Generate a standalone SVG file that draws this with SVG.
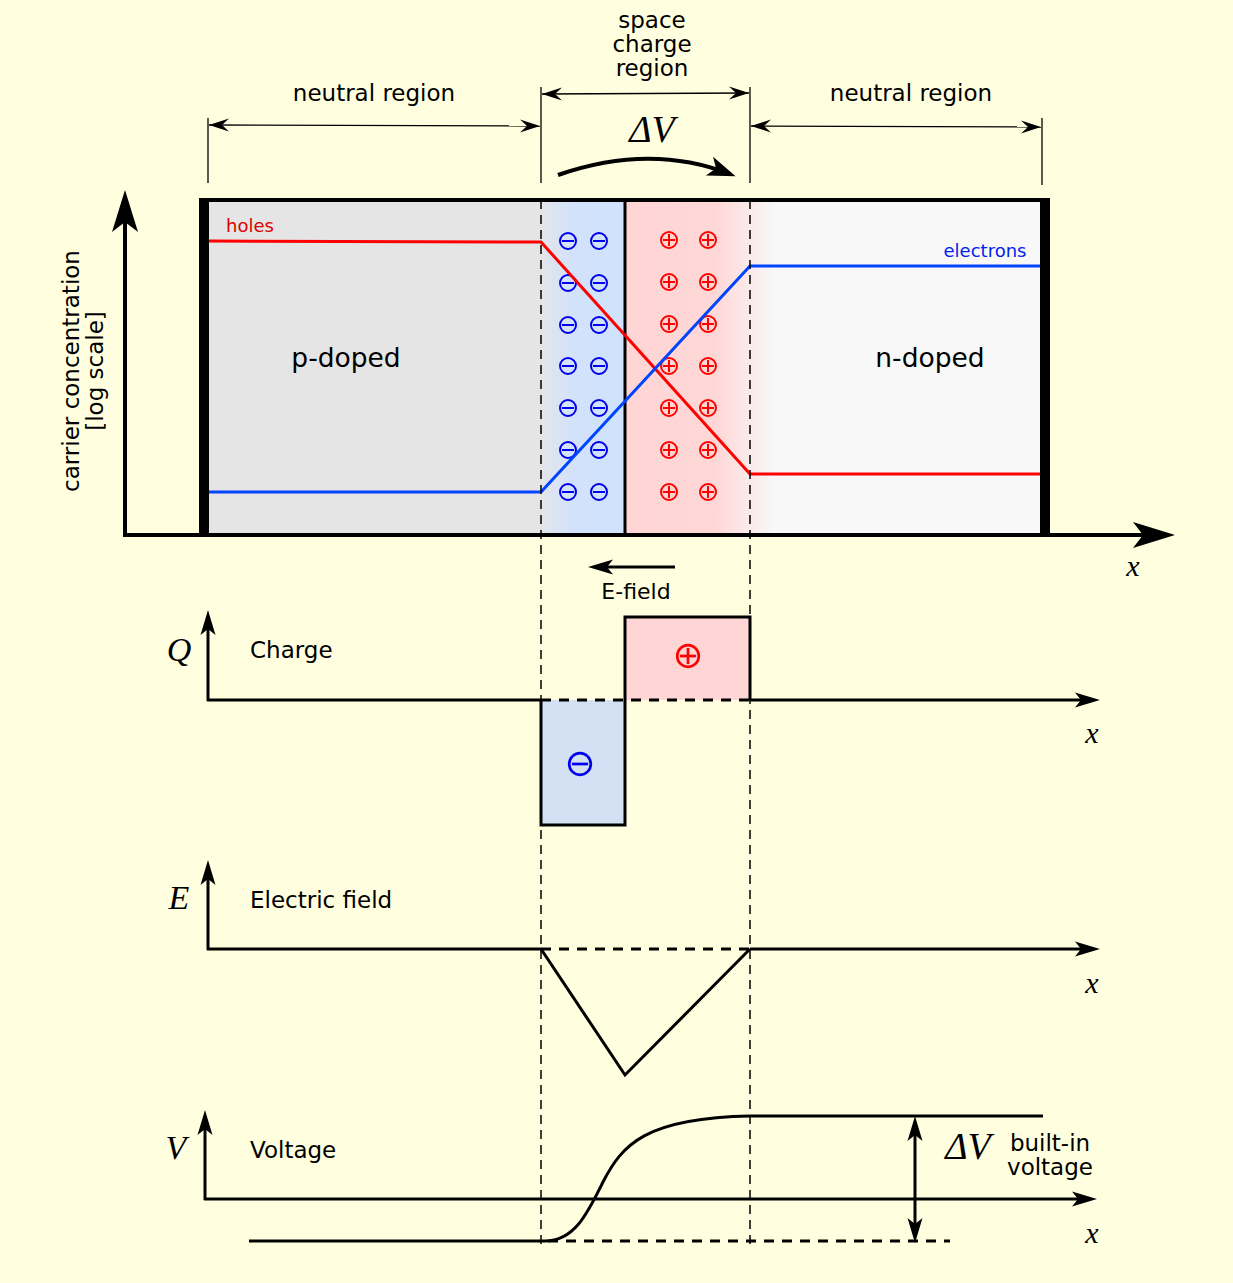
<svg xmlns="http://www.w3.org/2000/svg" width="1233" height="1283" viewBox="0 0 1233 1283">
<defs>
<style>
.t{font-family:"DejaVu Sans","Noto Sans",sans-serif;fill:#000}
.m{font-family:"Liberation Serif","DejaVu Serif",serif;font-style:italic;fill:#000}
.ln{stroke:#000;fill:none}
.dash{stroke:#000;stroke-width:1.5;stroke-dasharray:9 6;fill:none}
.bdash{stroke:#000;stroke-width:3;stroke-dasharray:10 8;fill:none}
.neg{stroke:#0000ee;stroke-width:2;fill:none}
.pos{stroke:#ff0000;stroke-width:2;fill:none}
</style>
<marker id="axL" markerUnits="userSpaceOnUse" viewBox="-35 -15 48 30" markerWidth="48" markerHeight="30" refX="0" refY="0" orient="auto" overflow="visible"><path d="M12,0 L-30,-13 L-20,0 L-30,13 z" fill="#000"/></marker>
<marker id="axM" markerUnits="userSpaceOnUse" viewBox="-20 -8 30 16" markerWidth="30" markerHeight="16" refX="0" refY="0" orient="auto-start-reverse" overflow="visible"><path d="M8,0 L-17,-7.5 L-11,0 L-17,7.5 z" fill="#000"/></marker>
<marker id="dim" markerUnits="userSpaceOnUse" viewBox="-22 -8 24 16" markerWidth="24" markerHeight="16" refX="0" refY="0" orient="auto-start-reverse" overflow="visible"><path d="M0,0 L-20,-6.5 L-13,0 L-20,6.5 z" fill="#000"/></marker>
<marker id="arc" markerUnits="userSpaceOnUse" viewBox="-30 -12 40 24" markerWidth="40" markerHeight="24" refX="0" refY="0" orient="auto" overflow="visible"><path d="M6,0 L-22,-10 L-15,0 L-22,10 z" fill="#000"/></marker>
<linearGradient id="gBlue" x1="541" y1="0" x2="625" y2="0" gradientUnits="userSpaceOnUse">
<stop offset="0" stop-color="#e3e5ea"/><stop offset="0.4" stop-color="#d2e2fb"/><stop offset="1" stop-color="#d0e2fd"/>
</linearGradient>
<linearGradient id="gRed" x1="625" y1="0" x2="775" y2="0" gradientUnits="userSpaceOnUse">
<stop offset="0" stop-color="#ffd5d5"/><stop offset="0.6" stop-color="#ffd7d7"/><stop offset="1" stop-color="#f8f8f8"/>
</linearGradient>
<g id="minus"><circle r="8" class="neg"/><line x1="-6" y1="0" x2="6" y2="0" class="neg" stroke-width="2.5"/></g>
<g id="plus"><circle r="8" class="pos"/><line x1="-6" y1="0" x2="6" y2="0" class="pos"/><line x1="0" y1="-6" x2="0" y2="6" class="pos"/></g>
</defs>
<rect width="1233" height="1283" fill="#ffffe0"/>

<g id="junction">
<rect x="209" y="201" width="831" height="333" fill="#f8f8f8"/>
<rect x="209" y="201" width="332" height="333" fill="#e5e5e5"/>
<rect x="541" y="201" width="84" height="333" fill="url(#gBlue)"/>
<rect x="625" y="201" width="150" height="333" fill="url(#gRed)"/>
<line x1="625" y1="200" x2="625" y2="535" class="ln" stroke-width="3"/>
<line x1="199" y1="200" x2="1050" y2="200" class="ln" stroke-width="4"/>
<rect x="199" y="199" width="10" height="336" fill="#000"/>
<rect x="1040" y="199" width="10" height="336" fill="#000"/>
<text class="t" x="346" y="367" font-size="26.5" text-anchor="middle">p-doped</text>
<text class="t" x="930" y="367" font-size="26.5" text-anchor="middle">n-doped</text>
</g>

<g id="ions">
<use href="#minus" x="568" y="241"/><use href="#minus" x="599" y="241"/>
<use href="#minus" x="568" y="283"/><use href="#minus" x="599" y="283"/>
<use href="#minus" x="568" y="325"/><use href="#minus" x="599" y="325"/>
<use href="#minus" x="568" y="366"/><use href="#minus" x="599" y="366"/>
<use href="#minus" x="568" y="408"/><use href="#minus" x="599" y="408"/>
<use href="#minus" x="568" y="450"/><use href="#minus" x="599" y="450"/>
<use href="#minus" x="568" y="492"/><use href="#minus" x="599" y="492"/>
<use href="#plus" x="669" y="240"/><use href="#plus" x="708" y="240"/>
<use href="#plus" x="669" y="282"/><use href="#plus" x="708" y="282"/>
<use href="#plus" x="669" y="324"/><use href="#plus" x="708" y="324"/>
<use href="#plus" x="669" y="366"/><use href="#plus" x="708" y="366"/>
<use href="#plus" x="669" y="408"/><use href="#plus" x="708" y="408"/>
<use href="#plus" x="669" y="450"/><use href="#plus" x="708" y="450"/>
<use href="#plus" x="669" y="492"/><use href="#plus" x="708" y="492"/>
</g>

<g id="carriers">
<polyline points="209,241 541,242 750,474 1040,474" fill="none" stroke="#ff0000" stroke-width="3"/>
<polyline points="209,492 541,492 750,266 1040,266" fill="none" stroke="#0044ff" stroke-width="3"/>
<text x="226" y="232" font-size="18" fill="#dd0000" font-family="DejaVu Sans, sans-serif">holes</text>
<text x="985" y="257" font-size="18" fill="#0022ee" font-family="DejaVu Sans, sans-serif" text-anchor="middle">electrons</text>
</g>

<g id="connectors">
<line x1="541" y1="200" x2="541" y2="1245" class="dash"/>
<line x1="750" y1="200" x2="750" y2="1245" class="dash"/>
<line x1="208" y1="118" x2="208" y2="183" class="ln" stroke-width="1.3"/>
<line x1="541" y1="87" x2="541" y2="183" class="ln" stroke-width="1.3"/>
<line x1="750" y1="87" x2="750" y2="183" class="ln" stroke-width="1.3"/>
<line x1="1042" y1="118" x2="1042" y2="185" class="ln" stroke-width="1.3"/>
<line x1="209" y1="125" x2="540" y2="126" class="ln" stroke-width="1.3" marker-start="url(#dim)" marker-end="url(#dim)"/>
<line x1="542" y1="94" x2="749" y2="93" class="ln" stroke-width="1.3" marker-start="url(#dim)" marker-end="url(#dim)"/>
<line x1="751" y1="126" x2="1041" y2="127" class="ln" stroke-width="1.3" marker-start="url(#dim)" marker-end="url(#dim)"/>
<path d="M558,175 Q650,143 730,174" class="ln" stroke-width="4" marker-end="url(#arc)"/>
<line x1="125" y1="537" x2="125" y2="202" class="ln" stroke-width="4" marker-end="url(#axL)"/>
<line x1="123" y1="535" x2="1163" y2="535" class="ln" stroke-width="4" marker-end="url(#axL)"/>
<line x1="675" y1="567" x2="596" y2="567" class="ln" stroke-width="3" marker-end="url(#axM)"/>
<rect x="541" y="700" width="84" height="125" fill="#d4e0f4"/>
<rect x="625" y="617" width="125" height="83" fill="#ffd5d5"/>
<path d="M541,700 L541,825 L625,825 L625,617 L750,617 L750,700" class="ln" stroke-width="3"/>
<line x1="208" y1="701" x2="208" y2="618" class="ln" stroke-width="3" marker-end="url(#axM)"/>
<line x1="207" y1="700" x2="541" y2="700" class="ln" stroke-width="3"/>
<line x1="541" y1="700" x2="750" y2="700" class="bdash"/>
<line x1="750" y1="700" x2="1092" y2="700" class="ln" stroke-width="3" marker-end="url(#axM)"/>
<line x1="208" y1="950" x2="208" y2="868" class="ln" stroke-width="3" marker-end="url(#axM)"/>
<line x1="207" y1="949" x2="541" y2="949" class="ln" stroke-width="3"/>
<line x1="541" y1="949" x2="750" y2="949" class="bdash"/>
<line x1="750" y1="949" x2="1092" y2="949" class="ln" stroke-width="3" marker-end="url(#axM)"/>
<path d="M541,949 L625,1075 L750,949" class="ln" stroke-width="3"/>
<line x1="205" y1="1200" x2="205" y2="1118" class="ln" stroke-width="3" marker-end="url(#axM)"/>
<line x1="204" y1="1199" x2="1089" y2="1199" class="ln" stroke-width="3" marker-end="url(#axM)"/>
<path d="M249,1241 L545,1241 C575,1241 588,1212 603,1182 C622,1145 645,1118 750,1116 L1043,1116" class="ln" stroke-width="3"/>
<line x1="548" y1="1241" x2="950" y2="1241" class="bdash"/>
<line x1="915" y1="1124" x2="915" y2="1235" class="ln" stroke-width="3" marker-start="url(#axM)" marker-end="url(#axM)"/>
</g>

<g id="labels">
<text class="t" x="374" y="101" font-size="23" text-anchor="middle">neutral region</text>
<text class="t" x="911" y="101" font-size="23" text-anchor="middle">neutral region</text>
<text class="t" x="652" y="28" font-size="23" text-anchor="middle">space</text>
<text class="t" x="652" y="52" font-size="23" text-anchor="middle">charge</text>
<text class="t" x="652" y="76" font-size="23" text-anchor="middle">region</text>
<text class="m" x="652" y="142" font-size="38" text-anchor="middle">ΔV</text>
<text class="t" font-size="23" text-anchor="middle" transform="translate(79,371) rotate(-90)">carrier concentration</text>
<text class="t" font-size="23" text-anchor="middle" transform="translate(103,371) rotate(-90)">[log scale]</text>
<text class="m" x="1133" y="576" font-size="30" text-anchor="middle">x</text>
<text class="t" x="636" y="599" font-size="22" text-anchor="middle">E-field</text>
<text class="m" x="179" y="661" font-size="34" text-anchor="middle">Q</text>
<text class="t" x="250" y="658" font-size="23">Charge</text>
<use href="#minus" transform="translate(580,764) scale(1.35)"/>
<use href="#plus" transform="translate(688,656) scale(1.35)"/>
<text class="m" x="1092" y="743" font-size="30" text-anchor="middle">x</text>
<text class="m" x="179" y="909" font-size="34" text-anchor="middle">E</text>
<text class="t" x="250" y="908" font-size="23">Electric field</text>
<text class="m" x="1092" y="993" font-size="30" text-anchor="middle">x</text>
<text class="m" x="176" y="1159" font-size="34" text-anchor="middle">V</text>
<text class="t" x="250" y="1158" font-size="23">Voltage</text>
<text class="m" x="968" y="1159" font-size="38" text-anchor="middle">ΔV</text>
<text class="t" x="1050" y="1151" font-size="23" text-anchor="middle">built-in</text>
<text class="t" x="1050" y="1175" font-size="23" text-anchor="middle">voltage</text>
<text class="m" x="1092" y="1243" font-size="30" text-anchor="middle">x</text>
</g>
</svg>
